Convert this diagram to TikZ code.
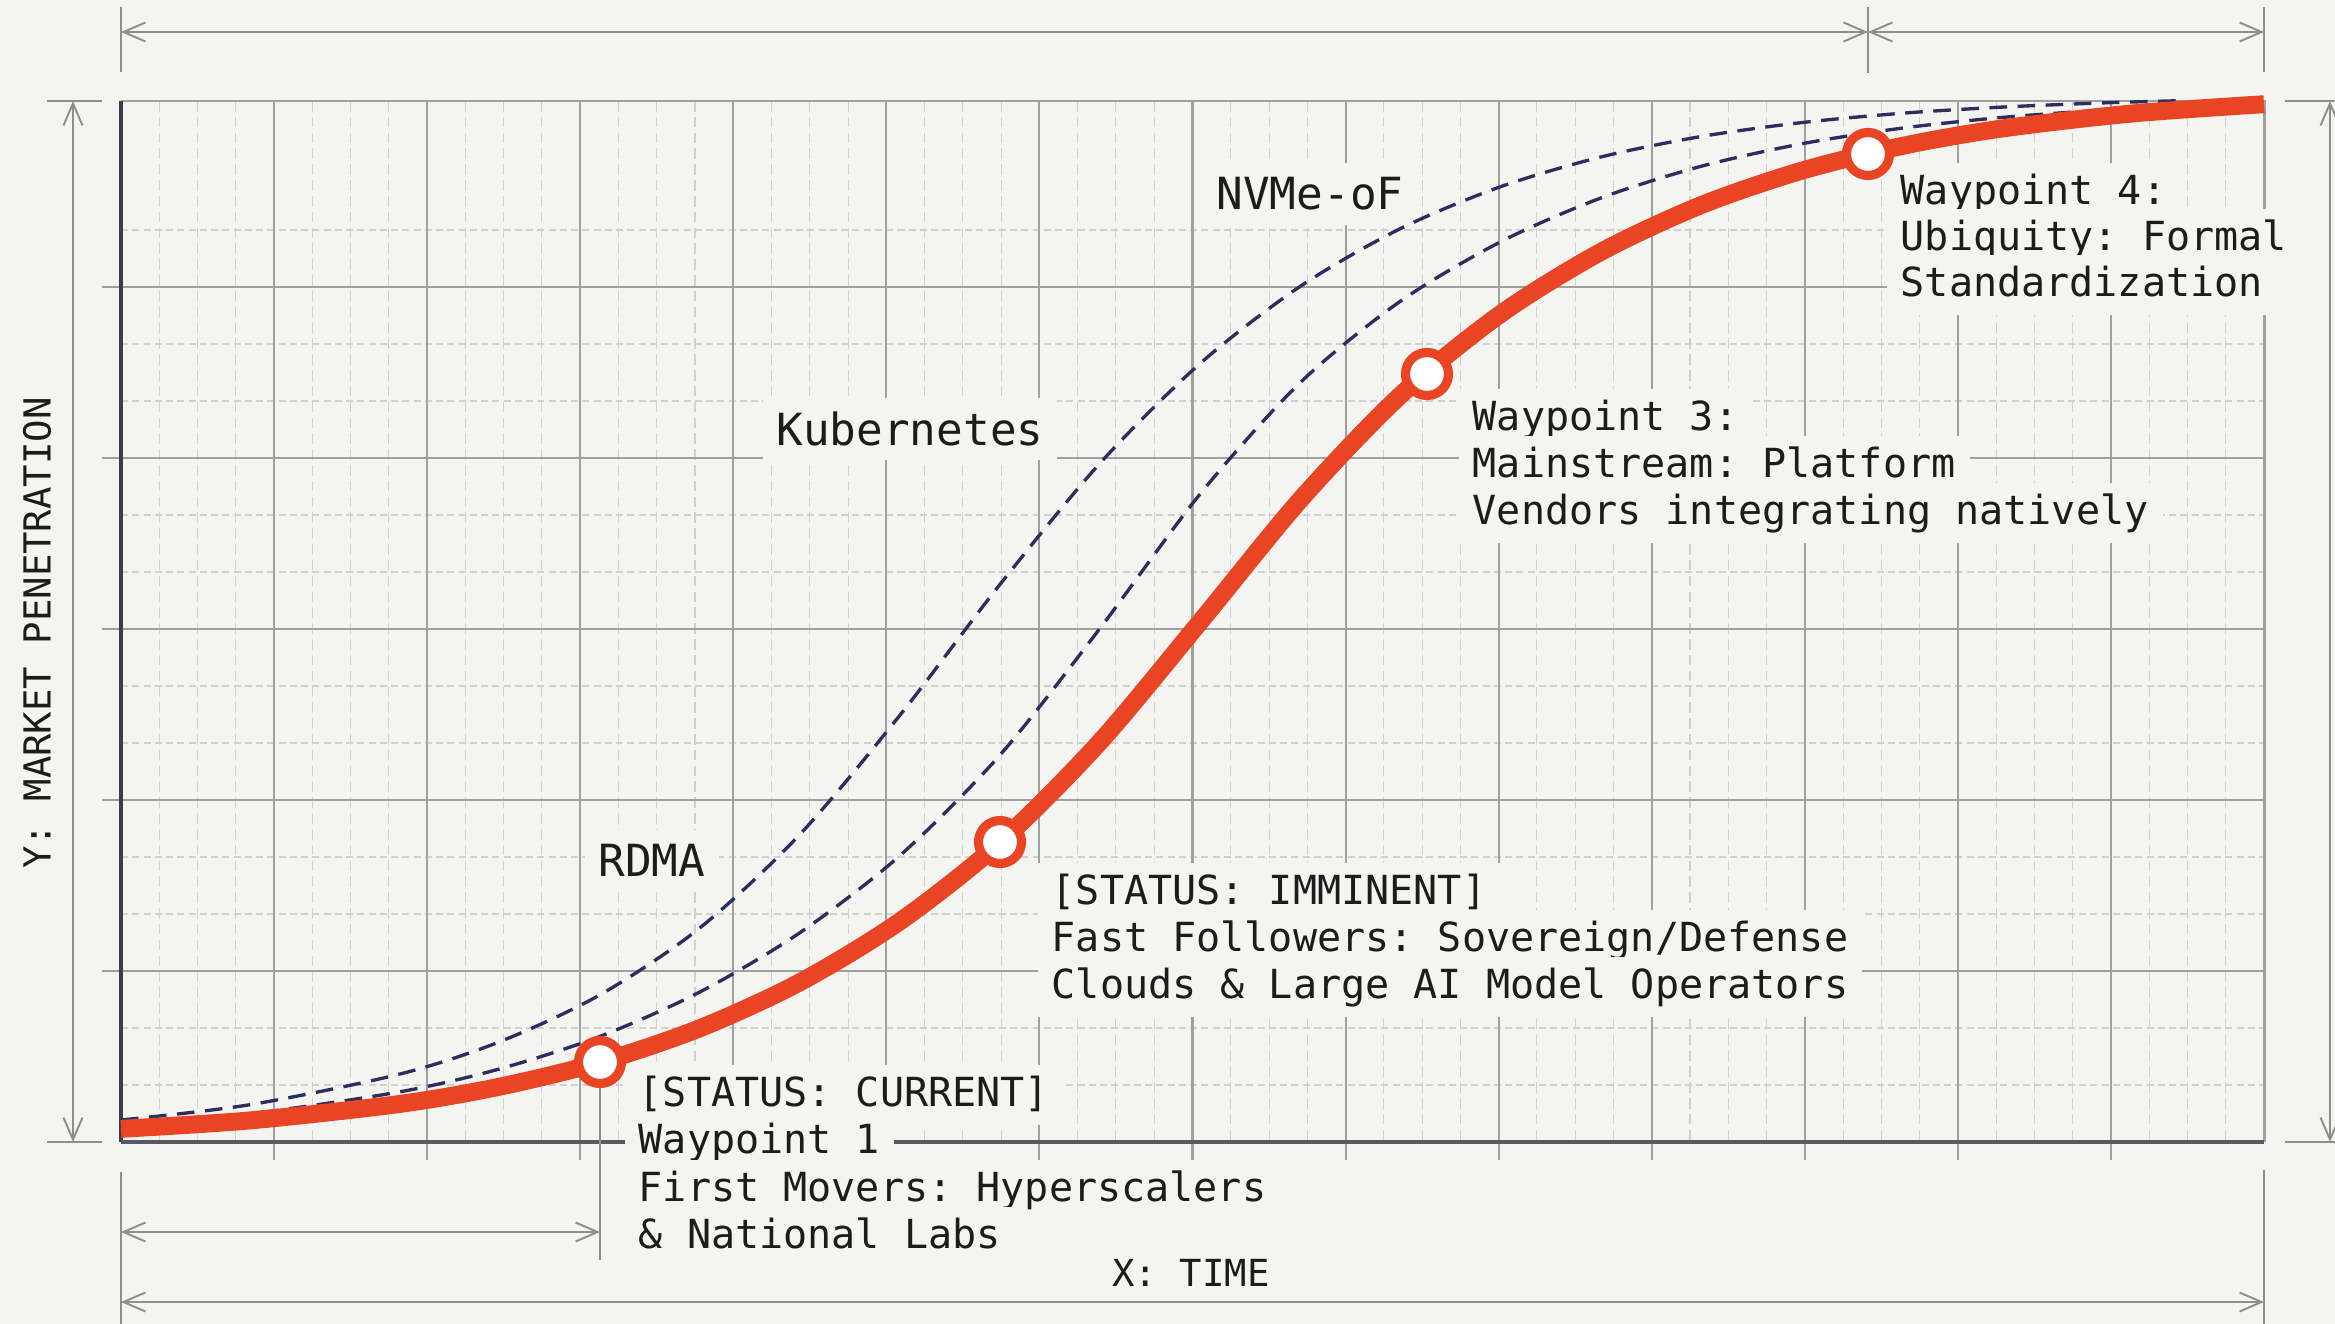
\documentclass[tikz,border=0pt]{standalone}
\usepackage{fontspec}
\setmonofont{DejaVu Sans Mono}
\usepackage{xcolor}
\usetikzlibrary{arrows.meta}
\definecolor{paper}{HTML}{F4F4F0}
\definecolor{gridmaj}{HTML}{A0A0A0}
\definecolor{gridmin}{HTML}{D0D0D0}
\definecolor{axisdark}{HTML}{3C3C4A}
\definecolor{dimgray}{HTML}{8E8E8E}
\definecolor{navy}{HTML}{2C2F5E}
\definecolor{curvered}{HTML}{E94524}
\definecolor{ink}{HTML}{1C1C1C}

\begin{document}
\begin{tikzpicture}[x=0.01cm, y=-0.01cm,
	dimline/.style={draw=dimgray, line width=0.55pt},
	dimarrow/.style={dimline, {Straight Barb[length=2.2mm,width=1.9mm]}-{Straight Barb[length=2.2mm,width=1.9mm]}},
	minorgrid/.style={draw=gridmin, line width=0.3pt},
	majorgrid/.style={draw=gridmaj, line width=0.6pt},
	adoption/.style={draw=navy, line width=0.95pt, dash pattern=on 5pt off 3pt},
	scurve/.style={draw=curvered, line width=5.1pt},
	waypoint/.style={circle, draw=curvered, line width=2.6pt, fill=white, inner sep=0pt, minimum size=0.43cm},
	noteline/.style={anchor=base west, fill=paper, inner xsep=4pt, inner ysep=3pt, text height=8.7pt, text depth=2.4pt, text=ink, font=\ttfamily\fontsize{11.4}{13.4}\selectfont},
	tech/.style={fill=paper, inner sep=4pt, text=ink, font=\ttfamily\fontsize{12.6}{14}\selectfont},
	axislabel/.style={text=ink, font=\ttfamily\fontsize{10.6}{12}\selectfont}]

	\path[use as bounding box, fill=paper] (0,0) rectangle (2335,1324);

	% grid
	\foreach \k in {0,...,13} {
		\foreach \j in {1,2,3} {
			\draw[minorgrid, dash pattern=on 3pt off 1.5pt] ({121+153.07*\k+38.27*\j},101) -- ({121+153.07*\k+38.27*\j},1142);
		}
	}
	\foreach \y in {1085,1028,914,857,743,686,572,515,401,344,230}
		\draw[minorgrid, dash pattern=on 2pt off 1.2pt] (121,\y) -- (2264,\y);
	\foreach \k in {1,...,13}
		\draw[majorgrid] ({121+153.07*\k},101) -- ({121+153.07*\k},1160);
	\foreach \y in {287,458,629,800,971}
		\draw[majorgrid] (102,\y) -- (2264,\y);
	\draw[draw=gridmaj, line width=0.85pt] (121,101) -- (2264,101) -- (2264,1142);
	\draw[draw=axisdark, line width=1pt] (121,101) -- (121,1142);
	\draw[draw=axisdark!85, line width=1.1pt] (121,1142) -- (2264,1142);

	% dimensions
	\draw[dimline] (121,7) -- (121,72);
	\draw[dimline] (1868,7) -- (1868,73);
	\draw[dimline] (2264,7) -- (2264,72);
	\draw[dimarrow] (121,32) -- (1868,32);
	\draw[dimarrow] (1868,32) -- (2264,32);
	\draw[dimline] (47,101) -- (102,101);
	\draw[dimline] (47,1142) -- (102,1142);
	\draw[dimarrow] (73,101) -- (73,1142);
	\draw[dimline] (2285,101) -- (2335,101);
	\draw[dimline] (2285,1142) -- (2335,1142);
	\draw[dimarrow] (2330,101) -- (2330,1142);
	\draw[dimline] (121,1172) -- (121,1324);
	\draw[dimline] (2264,1170) -- (2264,1324);
	\draw[dimarrow] (121,1232) -- (600,1232);
	\draw[dimarrow] (121,1302) -- (2264,1302);

	\node[axislabel, rotate=90] (ylab) at (37,633) {Y: MARKET PENETRATION};
	\node[axislabel] (xlab) at (1191,1273) {X: TIME};

	\node[tech] (rdma) at (652,860) {RDMA};
	\node[tech] (k8s) at (910,429) {Kubernetes};
	\node[tech] (nvmeof) at (1310,194) {NVMe-oF};

	\node[noteline] (note1a) at (624,1106) {[STATUS: CURRENT]};
	\node[noteline] (note1b) at (624,1153) {Waypoint 1};
	\node[noteline] (note1c) at (624,1201) {First Movers: Hyperscalers};
	\node[noteline] (note1d) at (624,1248) {\& National Labs};

	\node[noteline] (note2a) at (1037,904) {[STATUS: IMMINENT]};
	\node[noteline] (note2b) at (1037,951) {Fast Followers: Sovereign/Defense};
	\node[noteline] (note2c) at (1037,998) {Clouds \& Large AI Model Operators};

	\node[noteline] (note3a) at (1458,430) {Waypoint 3:};
	\node[noteline] (note3b) at (1458,477) {Mainstream: Platform};
	\node[noteline] (note3c) at (1458,524) {Vendors integrating natively};

	\node[noteline] (note4a) at (1886,204) {Waypoint 4:};
	\node[noteline] (note4b) at (1886,250) {Ubiquity: Formal};
	\node[noteline] (note4c) at (1886,296) {Standardization};

	% curves
	\draw[adoption] plot[smooth] coordinates {(121,1120) (250,1104.7) (400,1074) (500,1041.6) (600,994.8) (700,927.8) (800,834.3) (900,715.1) (1000,584.4) (1100,463.2) (1200,363.6) (1300,286.5) (1400,228.8) (1500,186.9) (1600,157.2) (1700,136.7) (1800,122.8) (1900,113.4) (2000,107.2) (2100,103) (2180,100.7)};
	\draw[adoption] plot[smooth] coordinates {(121,1125) (250,1113.8) (400,1091.8) (500,1068.8) (600,1036.4) (700,991.9) (800,932.6) (900,855.5) (1000,755) (1100,628.3) (1200,494.1) (1300,382.8) (1400,301.5) (1500,242.1) (1600,198.3) (1700,166.6) (1800,144.1) (1900,128.4) (2000,117.6) (2100,110.3) (2180,106.1)};
	\draw[scurve] plot[smooth] coordinates {(121,1128.8) (250,1120.4) (400,1103.9) (500,1086.6) (600,1062.2) (700,1028.2) (800,982.2) (900,921.3) (1000,842.4) (1100,741.8) (1200,622) (1300,500.1) (1400,395.7) (1500,314.4) (1600,252.4) (1700,205.6) (1800,171.2) (1900,146.4) (2000,128.8) (2130,113.7) (2264,104.2)};

	\node[waypoint] (wp1) at (600,1062) {};
	\node[waypoint] (wp2) at (1000,842) {};
	\node[waypoint] (wp3) at (1427,374) {};
	\node[waypoint] (wp4) at (1868,154) {};
	\draw[dimline] (wp1.south) -- (600,1260);
\end{tikzpicture}
\end{document}
